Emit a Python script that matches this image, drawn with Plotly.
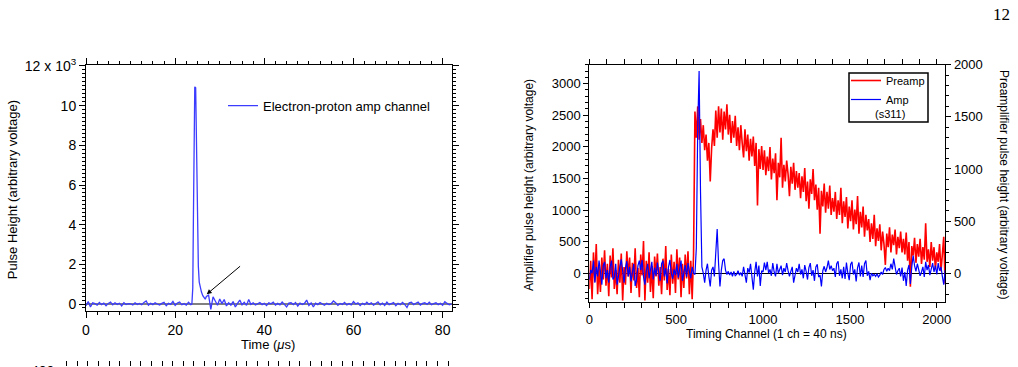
import numpy as np
import plotly.graph_objects as go

W, H = 1018, 367
def px(x): return x / W
def py(y): return 1 - y / H

# ---------------- Left panel: electron-proton amp channel ----------------
ep_time_pre = np.arange(0, 23.51, 0.5)          # 48 samples
ep_amp_pre = [-80, 120, -150, 60, 20, -60, 80, -30, 50, -90, 30, 100,
              -40, 60, -20, 40, -100, 70, -30, 20, 10, -50, 60, -20,
              30, -40, 80, 150, -60, 40, -30, 60, 0, -50, 30, 80,
              -90, 40, -20, 130, -70, 50, 100, -40, 20, -60, 90, -30]
ep_time_peak = [23.75, 23.95, 24.1, 24.25, 24.4, 24.6, 24.75, 24.9, 25.05, 25.2,
                25.4, 25.6, 25.9, 26.2, 26.5, 26.75]
ep_amp_peak = [0, 800, 4500, 9000, 10950, 10900, 8500, 5500, 3400, 1900,
               1100, 850, 600, 420, 280, 240]
ep_time_post = np.arange(27.0, 82.01, 0.5)      # 111 samples
ep_amp_post = [380, 450, -270, 360, 150, -60, 250, 20, 230, -100,
               60, -60, 120, -150, 30, 200, -40, 90, -70, 230,
               -20, 60, -50, 20, 70, -30, 40, -80, 60, 10,
               90, -60, 30, -40, 100, -20, -150, 40, 60, -30,
               80, -100, 50, -20, 30, 200, -80, 60, -150, 40,
               -30, 70, 20, -60, 40, -30, 20, 150, 60, -70,
               30, -20, 80, -50, 20, -40, 120, 0, 60, -80,
               40, -30, 90, -20, 60, -60, 30, 110, -40, 50,
               -70, 100, -30, 40, 70, -90, 30, -40, 80, -20,
               -180, 60, 90, -30, 40, 100, -50, 30, 60, -20,
               90, -40, 20, 60, -30, 40, -60, 120, 30, -40, 10]
assert len(ep_time_pre) == len(ep_amp_pre)
assert len(ep_time_peak) == len(ep_amp_peak)
assert len(ep_time_post) == len(ep_amp_post)
ep_time = list(ep_time_pre) + ep_time_peak + list(ep_time_post)
ep_amp = ep_amp_pre + ep_amp_peak + ep_amp_post

left_yticks = [0, 2000, 4000, 6000, 8000, 10000, 12000]
left_yticktext = ["0", "2", "4", "6", "8", "10", "12 x 10<sup>3</sup>"]

# ---------------- Right panel: preamp / amp (s311) ----------------
channel = np.arange(0, 2049, 8)  # 257 channels
preamp = [
    -150, 120, -250, 200, -80, 280, -200, 60, -180, 150, -60, 220, -120,
    90, -220, 170, -40, 240, -150, 30, -200, 130, -90, 190, -260, 60,
    -110, 210, -30, 150, -190, 100, -70, 240, -140, 50, -230, 180, -20,
    310, -260, 120, -90, 200, -180, 70, -240, 160, -30, 190, -120, 60,
    -200, 140, -70, 260, -160, 40, -210, 180, -100, 110, -190, 230, -60,
    150, -230, 90, -140, 180, -50, 210, -200, 120, -250, 180,
    1550, 1300, 1600, 1280, 1480, 1250, 1420, 1180, 1330, 1080, 1250, 880, 1200,
    1380, 1220, 1560, 1300, 1600, 1350, 1580, 1280, 1550, 1380, 1620, 1330,
    1520, 1250, 1460, 1300, 1510, 1220, 1400, 1180, 1420, 1250, 1110, 1380, 1170,
    1330, 1080, 1290, 1120, 1310, 1030, 1250, 650, 1190, 1000, 1220, 990,
    1180, 940, 1120, 980, 1210, 900, 1100, 960, 1150, 700, 1060, 920, 1300,
    820, 1040, 880, 1080, 950, 740, 1020, 860, 1060, 800, 980, 820,
    960, 720, 930, 780, 1010, 690, 880, 620, 900, 760, 1000, 700, 850,
    610, 820, 380, 790, 640, 860, 580, 780, 620, 840, 560, 720,
    590, 780, 520, 700, 560, 820, 480, 690, 540, 730, 430, 640, 500,
    700, 420, 610, 470, 740, 380, 590, 440, 640, 350, 560, 410,
    520, 300, 480, 330, 560, 260, 430, 310, 470, 220, 400, 280, 80,
    380, 250, 440, 200, 370, 270, 420, 180, 350, 240, 400, 200,
    330, 180, 390, 120, 300, -130, 260, 170, 340, 100, 280, 160, 330, 90, 250, 130,
    480, 110, 230, 60, 300, 120, 250, 40, 200, 110, 280, 20, 180, 350, -100]
amp = [
    -100, 50, 0, 200, -150, 100, -50, 200, 30, -180, 120, 180, -80,
    50, -150, 100, 200, -100, -60, 150, -180, 0, 100, 220, 30, -150,
    80, 190, -50, 100, -130, 60, 150, -200, -100, 120, 200, 50, 210,
    -60, -180, 40, 150, -80, 30, 180, -100, 90, -40, 170, 0, -120,
    150, 200, -50, 80, -160, 100, 210, 0, -90, 60, -30, 150, -70,
    50, 200, -120, 30, 130, -60, 160, 30, -80, 100, 0,
    -20, 400, 2300, 3200, 1300, 100, 0, -150, 50, 150, -50, -210, 50,
    100, -50, 300, 700, 150, -210, 50, 200, 230, 50, -20, 30,
    -30, 20, -50, 30, -40, -20, 40, -30, 10, -50, 100, -10, -150,
    80, 10, 150, -100, -260, 20, 180, -50, 120, -200, 40, 20,
    170, 50, 180, 0, 60, -40, 160, 20, -50, 150, 0, 60, 120,
    -30, 80, 20, 160, 40, -50, 30, 100, -150, -30, 80, 20,
    150, -20, 60, -80, 130, 30, -100, 90, 160, -40, 50, -120, 100,
    140, -60, -30, -210, 40, 110, 20, 90, 200, 60, 120, 40,
    80, -60, 150, 190, -40, 60, -80, 100, -90, 170, 0, -110, 140,
    180, -20, 60, -130, 90, 170, -50, 120, -60, 150, 200, -40,
    30, -110, 0, -40, -20, -50, -10, -60, -30, 20, -20, 60, 90,
    30, 80, 40, 150, 60, 230, 100, -20, 40, 80, -50, 90,
    -120, 20, -200, 50, 130, -170, 100, 280, 120, 30, 150, 60, -40, 20, 100, -60,
    180, 50, 130, -30, 80, 160, 20, 120, -20, 160, 40, 100, -50, -180, 50]
assert len(preamp) == len(channel), len(preamp)
assert len(amp) == len(channel), len(amp)

FONT = "Liberation Sans, Arial, Helvetica, sans-serif"

fig = go.Figure()
fig.add_trace(go.Scatter(x=ep_time, y=ep_amp, mode="lines", name="Electron-proton amp channel",
                         line=dict(color="#3c3cff", width=1.3), xaxis="x", yaxis="y", legend="legend"))
fig.add_trace(go.Scatter(x=channel, y=preamp, mode="lines", name="Preamp",
                         line=dict(color="#ff0000", width=1.6), xaxis="x2", yaxis="y2", legend="legend2"))
fig.add_trace(go.Scatter(x=channel, y=amp, mode="lines", name="Amp",
                         line=dict(color="#0000ff", width=1.2), xaxis="x2", yaxis="y3", legend="legend2"))
fig.add_trace(go.Scatter(x=[], y=[], xaxis="x3", yaxis="y4", showlegend=False, hoverinfo="skip"))

def frame(**kw):
    base = dict(showline=True, linecolor="black", linewidth=1, ticks="outside", ticklen=6,
                tickcolor="black", showgrid=False, zeroline=False, automargin=False,
                tickfont=dict(family=FONT, size=13, color="black"))
    base.update(kw)
    return base

fig.update_layout(
    width=W, height=H, margin=dict(l=0, r=0, t=0, b=0),
    paper_bgcolor="white", plot_bgcolor="rgba(0,0,0,0)",
    font=dict(family=FONT, color="black"),
    xaxis=frame(domain=[px(86), px(452)], range=[0, 82.1], anchor="y", tick0=0, dtick=20,
                mirror="allticks", tickfont=dict(family=FONT, size=14, color="black"),
                minor=dict(ticks="outside", ticklen=3, tick0=0, dtick=2.5, tickcolor="black")),
    yaxis=frame(domain=[py(311), py(65)], range=[-353, 12050], anchor="x", tickmode="array",
                tickvals=left_yticks, ticktext=left_yticktext, mirror="allticks",
                zeroline=True, zerolinecolor="#808080", zerolinewidth=2,
                tickfont=dict(family=FONT, size=14, color="black"),
                minor=dict(ticks="outside", ticklen=3, tickmode="linear", tick0=0, dtick=200, tickcolor="black")),
    xaxis2=frame(domain=[px(589.3), px(945.3)], range=[0, 2049], anchor="y2", tick0=0, dtick=500,
                 mirror="allticks", ticklen=5,
                 minor=dict(ticks="outside", ticklen=3, tick0=0, dtick=100, tickcolor="black")),
    yaxis2=frame(domain=[py(302.3), py(64.7)], range=[-278.5, 2000], anchor="x2", side="right",
                 tick0=0, dtick=500, ticklen=5, zeroline=True, zerolinecolor="black", zerolinewidth=1,
                 minor=dict(ticks="outside", ticklen=3, tick0=0, dtick=100, tickcolor="black")),
    yaxis3=frame(range=[-460, 3300], anchor="x2", overlaying="y2", side="left",
                 tick0=0, dtick=500, ticklen=5, zeroline=True, zerolinecolor="black", zerolinewidth=1,
                 minor=dict(ticks="outside", ticklen=3, tick0=0, dtick=100, tickcolor="black")),
    xaxis3=dict(domain=[px(66.7), px(452)], range=[0, 6.06], anchor="y4", side="top",
                showline=False, showgrid=False, zeroline=False, showticklabels=False,
                ticks="outside", ticklen=5, tickcolor="black", tick0=0, dtick=1,
                minor=dict(ticks="outside", ticklen=5, tick0=0, dtick=1/6, tickcolor="black")),
    yaxis4=dict(domain=[0, 0.001], range=[0, 1], anchor="x3", visible=False),
    legend=dict(x=px(223), y=py(105.7), xanchor="left", yanchor="middle",
                bgcolor="rgba(0,0,0,0)", font=dict(family=FONT, size=13, color="black")),
    legend2=dict(x=px(846), y=py(66), xanchor="left", yanchor="top", tracegroupgap=0,
                 bgcolor="rgba(0,0,0,0)", font=dict(family=FONT, size=11, color="black")),
    showlegend=True,
)

fig.add_shape(type="rect", xref="paper", yref="paper", x0=px(849), x1=px(928), y0=py(73), y1=py(122),
              line=dict(color="black", width=1.5), fillcolor="rgba(0,0,0,0)", layer="above")

ann = []
def text(t, x, y, size, angle=0, **kw):
    d = dict(text=t, x=px(x), y=py(y), xref="paper", yref="paper", showarrow=False,
             textangle=angle, font=dict(family=FONT, size=size, color="black"),
             xanchor="center", yanchor="middle")
    d.update(kw)
    ann.append(d)

text("Pulse Height (arbitrary voltage)", 12.5, 189.7, 13, -90)
text("Time (<i>μ</i>s)", 268.3, 344.5, 13)
text("Amplifier pulse height (arbitrary voltage)", 529, 185, 12, -90)
text("Preamplifier pulse height (arbitrary voltage)", 1004, 184, 12, 90)
text("Timing Channel (1 ch = 40 ns)", 766.7, 333.5, 12)
text("(s311)", 890, 113.5, 11)
text("12", 1012, 14.5, 17, xanchor="right")
ann[-1]["font"] = dict(family="Liberation Serif, Times New Roman, serif", size=17, color="black")
text("400", 42.5, 361, 14, yanchor="top")

ann.append(dict(x=27.07, y=489, ax=34.9, ay=1967, xref="x", yref="y", axref="x", ayref="y",
                text="", showarrow=True, arrowhead=2, arrowsize=1, arrowwidth=1, arrowcolor="black"))
fig.update_layout(annotations=ann)

fig.write_html("out.html")
